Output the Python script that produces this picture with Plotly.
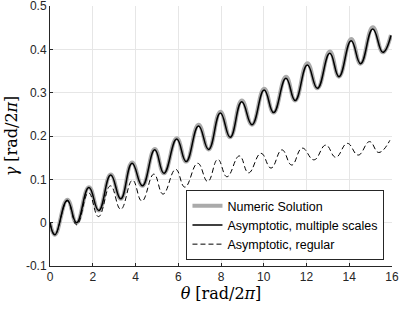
import plotly.graph_objects as go

# Multiple-scales asymptotic solution (extrema)
theta_ms = [0.00, 0.23, 0.81, 1.24, 1.82, 2.28, 2.84, 3.31, 3.84, 4.32, 4.90, 5.33,
            5.93, 6.37, 6.95, 7.42, 7.97, 8.43, 8.97, 9.45, 10.02, 10.46, 11.04,
            11.47, 12.04, 12.51, 13.09, 13.52, 14.09, 14.53, 15.10, 15.57, 15.95]
gamma_ms = [0.000, -0.028, 0.052, 0.000, 0.081, 0.028, 0.110, 0.055, 0.137, 0.085,
            0.168, 0.114, 0.193, 0.141, 0.223, 0.169, 0.253, 0.197, 0.279, 0.226,
            0.306, 0.254, 0.333, 0.282, 0.364, 0.310, 0.391, 0.337, 0.420, 0.367,
            0.447, 0.393, 0.432]

# Numeric solution (nearly identical, slightly higher peaks)
theta_num = theta_ms
gamma_num = [0.000, -0.028, 0.053, 0.000, 0.082, 0.028, 0.111, 0.055, 0.139, 0.085,
             0.170, 0.114, 0.195, 0.141, 0.226, 0.169, 0.256, 0.197, 0.282, 0.226,
             0.309, 0.254, 0.337, 0.282, 0.368, 0.310, 0.395, 0.337, 0.424, 0.367,
             0.451, 0.393, 0.433]

# Regular asymptotic solution
theta_rg = [0.00, 0.23, 0.81, 1.25, 1.80, 2.27, 2.83, 3.31, 3.86, 4.30, 4.86, 5.29,
            5.88, 6.31, 6.91, 7.38, 7.85, 8.28, 8.86, 9.29, 9.87, 10.34, 10.85,
            11.31, 11.80, 12.35, 12.90, 13.37, 13.91, 14.42, 14.95, 15.38, 15.90]
gamma_rg = [0.000, -0.028, 0.050, -0.005, 0.069, 0.014, 0.085, 0.031, 0.098, 0.050,
            0.112, 0.066, 0.123, 0.082, 0.137, 0.095, 0.146, 0.106, 0.154, 0.115,
            0.160, 0.126, 0.168, 0.133, 0.172, 0.145, 0.179, 0.151, 0.183, 0.156,
            0.187, 0.162, 0.190]

x_ticks = [0, 2, 4, 6, 8, 10, 12, 14, 16]
y_ticks = [-0.1, 0, 0.1, 0.2, 0.3, 0.4, 0.5]
y_tick_text = ["-0.1", "0", "0.1", "0.2", "0.3", "0.4", "0.5"]

fig = go.Figure()
fig.add_trace(go.Scatter(x=theta_num, y=gamma_num, mode="lines", name="Numeric Solution",
                         line=dict(color="#aaaaaa", width=4, shape="spline", smoothing=1.3)))
fig.add_trace(go.Scatter(x=theta_ms, y=gamma_ms, mode="lines", name="Asymptotic, multiple scales",
                         line=dict(color="#000000", width=1.5, shape="spline", smoothing=1.3)))
fig.add_trace(go.Scatter(x=theta_rg, y=gamma_rg, mode="lines", name="Asymptotic, regular",
                         line=dict(color="#000000", width=1, dash="5px,3px", shape="spline", smoothing=1.3)))

axis_font = dict(family="Liberation Sans, Arial, sans-serif", size=12, color="#262626")
fig.update_layout(
    width=399, height=309,
    margin=dict(l=50, r=7, t=6, b=43, autoexpand=False),
    paper_bgcolor="white", plot_bgcolor="white",
    showlegend=True,
    legend=dict(x=0.978, y=0.023, xanchor="right", yanchor="bottom",
                bgcolor="white", bordercolor="#262626", borderwidth=1,
                font=dict(family="Liberation Sans, Arial, sans-serif", size=12.5, color="#000000"),
                tracegroupgap=0, itemwidth=30),
    xaxis=dict(range=[0, 16], tickvals=x_ticks, ticks="inside", ticklen=3, tickcolor="#262626",
               showline=True, linecolor="#262626", linewidth=1, mirror=False,
               showgrid=True, gridcolor="#e6e6e6", gridwidth=1, zeroline=False,
               tickfont=axis_font, automargin=False, ticklabeloverflow="allow",
               title=dict(text="<i>θ</i> [rad/2<i>π</i>]", standoff=4,
                          font=dict(family="DejaVu Serif, serif", size=16, color="#000000"))),
    yaxis=dict(range=[-0.1, 0.5], tickvals=y_ticks, ticktext=y_tick_text, ticks="inside",
               ticklen=3, tickcolor="#262626",
               showline=True, linecolor="#262626", linewidth=1, mirror=False,
               showgrid=True, gridcolor="#e6e6e6", gridwidth=1, zeroline=False,
               tickfont=axis_font, automargin=False, ticklabeloverflow="allow",
               title=dict(text="<i>γ</i> [rad/2<i>π</i>]", standoff=4,
                          font=dict(family="DejaVu Serif, serif", size=16, color="#000000"))),
)

fig.write_html("out.html", config={"displayModeBar": False},
               post_script="document.body.style.margin='0';document.body.style.overflow='hidden';")
